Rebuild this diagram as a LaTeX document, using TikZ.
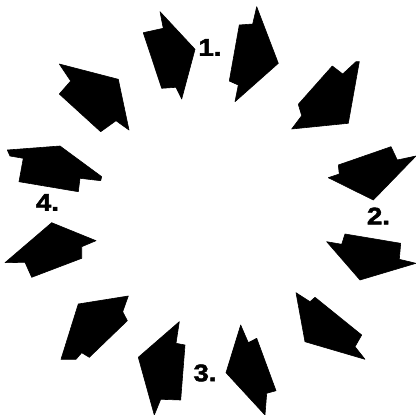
\documentclass[tikz,border=0pt]{standalone}
\usepackage{fontspec}
\newfontface\heavyfont{Liberation Sans Bold}[FakeBold=2]
\tikzset{blade/.style={fill=black,draw=black,line width=0.6pt,line join=round},
lbl/.style={font=\fontsize{24}{24}\heavyfont,inner sep=0pt,xscale=1.15,transform shape}}
\begin{document}
\begin{tikzpicture}[x=1pt,y=-1pt]
\useasboundingbox (0,0) rectangle (416,415);
% top pair
\fill[blade] (160,11.7) -- (195,49.3) -- (181.7,99) -- (176,87.3) -- (161.7,88.3) -- (143.3,32.7) -- (163.3,28.3) -- cycle;
\fill[blade] (256.7,6.7) -- (278.3,63.3) -- (235,101.7) -- (238.3,85) -- (229.3,81) -- (239.3,25) -- (252.7,24) -- cycle;
% upper right
\fill[blade] (359.3,61.7) -- (348.3,123.3) -- (291.7,129) -- (301.7,115.7) -- (298.3,104.3) -- (332.3,66) -- (342.7,74) -- (356,61.7) -- cycle;
\fill[blade] (391,146.7) -- (397.3,160) -- (416,156) -- (373.3,200) -- (328.3,177.7) -- (339.3,174) -- (338.3,165) -- cycle;
% lower right
\fill[blade] (326.7,241.7) -- (341.7,244.3) -- (345,234) -- (400.7,243.3) -- (399.3,259.3) -- (416,263.3) -- (360,280) -- cycle;
\fill[blade] (296,292.7) -- (310,301.7) -- (315,297.3) -- (361.7,335) -- (355,346.7) -- (365,359.3) -- (305,341.7) -- cycle;
% bottom pair
\fill[blade] (179.3,321.7) -- (176,343.3) -- (185,345) -- (180.7,400) -- (160.7,399.3) -- (154.3,415) -- (138.3,357.3) -- cycle;
\fill[blade] (240.7,325) -- (248.3,342.7) -- (256.7,338.3) -- (276,390.7) -- (266.7,393.3) -- (265,415) -- (226,372.7) -- cycle;
% lower left
\fill[blade] (51.7,222.7) -- (96,240.7) -- (81.7,246.7) -- (81.7,258.3) -- (31.7,277.3) -- (25,262.3) -- (5,262.7) -- cycle;
\fill[blade] (128.3,296) -- (122.7,311.7) -- (127.3,320.7) -- (89.3,357.3) -- (81.7,352.7) -- (76,359.3) -- (61,359.3) -- (78.3,304) -- cycle;
% upper left
\fill[blade] (59.3,64) -- (118.3,79.3) -- (129,130) -- (116,120.7) -- (100.7,131.7) -- (59.3,94) -- (70.7,81) -- cycle;
\fill[blade] (7.3,150) -- (60,146) -- (101.7,176.7) -- (100.7,180.7) -- (80,178.3) -- (78.3,191.7) -- (19,181.7) -- (23.3,158.3) -- (10,156) -- cycle;
% labels
\node[lbl] (n1) at (210,47.5) {1.};
\node[lbl] (n2) at (378.5,216) {2.};
\node[lbl] (n3) at (205,373) {3.};
\node[lbl] (n4) at (47.5,202.5) {4.};
\end{tikzpicture}
\end{document}
